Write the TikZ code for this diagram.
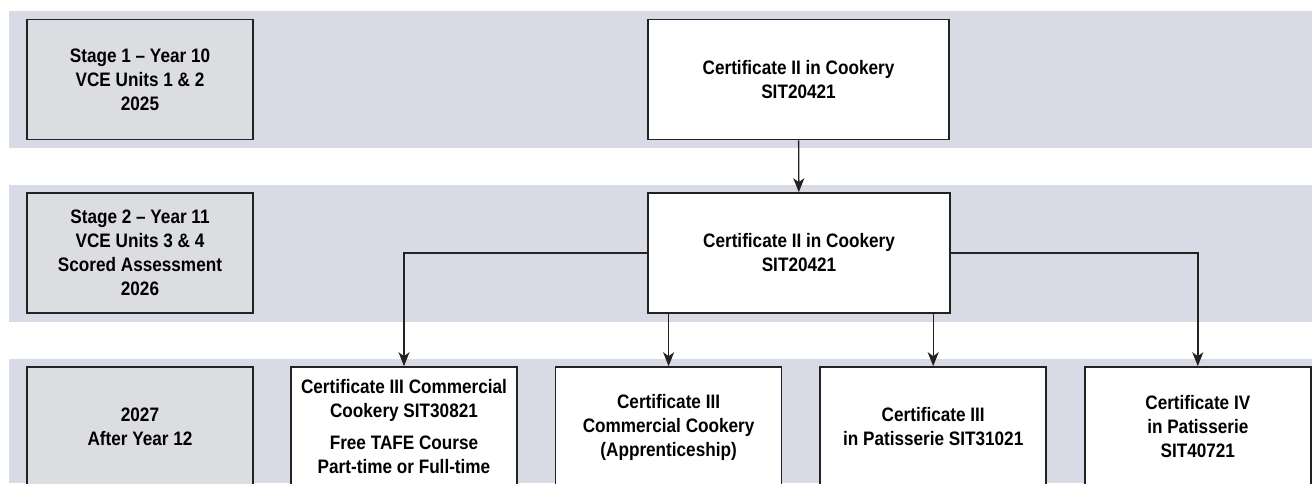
\documentclass[tikz,border=0pt]{standalone}
\usepackage{fontspec}
\setmainfont{Liberation Sans}[FakeStretch=0.88]
\usetikzlibrary{arrows.meta,positioning}
\definecolor{bandgrey}{HTML}{D8DAE6}
\definecolor{stagegrey}{HTML}{DCDDE0}
\definecolor{edgegrey}{HTML}{222222}

\begin{document}
\begin{tikzpicture}[x=1pt,y=-1pt,
  box/.style={draw=edgegrey,line width=1.6pt,fill=white,minimum height=120pt,
    align=center,inner sep=2pt,font=\bfseries\fontsize{19.5}{24}\selectfont},
  stagebox/.style={box,fill=stagegrey,minimum width=226pt},
  certbox/.style={box,minimum width=226pt},
  link/.style={draw=edgegrey,line width=1.4pt,-{Stealth[length=14pt,width=11pt,inset=4pt]}}]
\useasboundingbox (0,0) rectangle (1312,483);
% background bands
\fill[bandgrey] (9,11) rectangle (1312,148);
\fill[bandgrey] (9,185) rectangle (1312,322);
\fill[bandgrey] (9,359) rectangle (1312,483);
% stages
\node[stagebox] (stage1) at (140,79.5) {Stage 1 -- Year 10\\VCE Units 1 \& 2\\2025};
\node[stagebox] (stage2) at (140,253) {Stage 2 -- Year 11\\VCE Units 3 \& 4\\Scored Assessment\\2026};
\node[stagebox] (stage3) at (140,427) {2027\\After Year 12};
% courses
\node[box,minimum width=301pt] (certone) at (798.5,79.5) {Certificate II in Cookery\\SIT20421};
\node[box,minimum width=302pt] (certtwo) at (799,253) {Certificate II in Cookery\\SIT20421};
\node[certbox] (cookery) at (404,427) {Certificate III Commercial\\Cookery SIT30821\\[8pt]Free TAFE Course\\Part-time or Full-time};
\node[certbox,right=37pt of cookery] (apprentice) {Certificate III\\Commercial Cookery\\(Apprenticeship)};
\node[certbox,right=37pt of apprentice] (patisthree) {Certificate III\\in Patisserie SIT31021};
\node[certbox,right=37pt of patisthree] (patisfour) {Certificate IV\\in Patisserie\\SIT40721};
% connectors
\draw[link] (certone) -- (certtwo);
\draw[link] (certtwo.west) -| (cookery.north);
\draw[link] (certtwo.east) -| (patisfour.north);
\draw[link] (certtwo.south -| apprentice.north) -- (apprentice.north);
\draw[link] (certtwo.south -| patisthree.north) -- (patisthree.north);
\end{tikzpicture}
\end{document}
